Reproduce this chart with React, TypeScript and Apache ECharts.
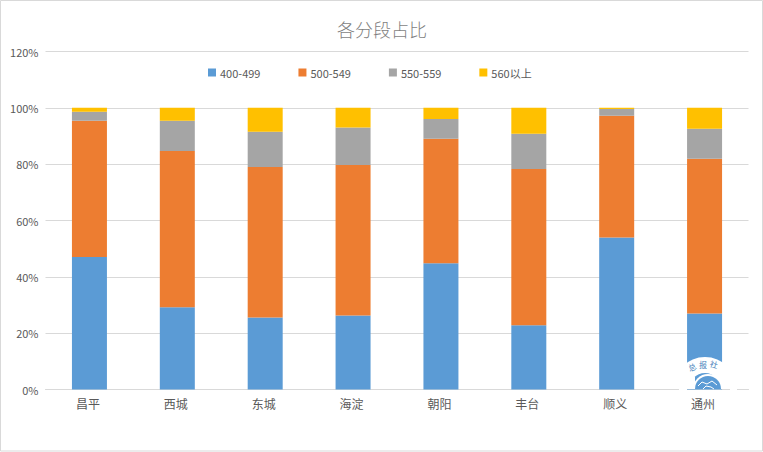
import React, { useEffect, useRef } from "react";
import * as echarts from "echarts";

const categories = ["昌平", "西城", "东城", "海淀", "朝阳", "丰台", "顺义", "通州"];
const band400 = [47, 29.2, 25.6, 26.3, 44.8, 22.8, 54, 27];
const band500 = [48.4, 55.5, 53.4, 53.4, 44.2, 55.5, 43.2, 54.9];
const band550 = [3.2, 10.7, 12.5, 13.3, 7, 12.5, 2.4, 10.7];
const band560 = [1.4, 4.6, 8.5, 7, 4, 9.2, 0.4, 7.4];
const seriesNames = ["400-499", "500-549", "550-559", "560以上"];
const colors = ["#5B9BD5", "#ED7D31", "#A5A5A5", "#FFC000"];
const FONT = '"Noto Sans CJK SC", "Noto Sans", sans-serif';

const stampBlue = "#5B9BD5";
const stampGraphic = [
  { type: "sector", silent: true, z: 50, shape: { cx: 705, cy: 389, r: 32, r0: 16, startAngle: Math.PI, endAngle: 2 * Math.PI }, style: { fill: "#fff" } },
  { type: "rect", silent: true, z: 50, shape: { x: 687, y: 377, width: 8, height: 12 }, style: { fill: "#fff" } },
  { type: "rect", silent: true, z: 50, shape: { x: 679, y: 388, width: 8, height: 3 }, style: { fill: "#fff" } },
  { type: "rect", silent: true, z: 50, shape: { x: 730, y: 388, width: 7, height: 3 }, style: { fill: "#fff" } },
  { type: "sector", silent: true, z: 51, shape: { cx: 708, cy: 389, r: 15, r0: 0, startAngle: Math.PI, endAngle: 2 * Math.PI }, style: { fill: "#fff" } },
  { type: "sector", silent: true, z: 52, shape: { cx: 708, cy: 389, r: 13, r0: 0, startAngle: Math.PI, endAngle: 2 * Math.PI }, style: { fill: stampBlue } },
  { type: "polyline", silent: true, z: 53, shape: { points: [[698, 386], [702, 382], [707, 384], [712, 381], [717, 385]] }, style: { fill: "none", stroke: "#fff", lineWidth: 1 } },
  { type: "polyline", silent: true, z: 53, shape: { points: [[703, 389], [706, 386], [711, 387], [714, 389]] }, style: { fill: "none", stroke: "#fff", lineWidth: 1 } },
  { type: "text", silent: true, z: 54, x: 692, y: 367, rotation: 0.4, style: { text: "总", fontFamily: FONT, fontSize: 8, fill: "#3f7fba", align: "center", verticalAlign: "middle" } },
  { type: "text", silent: true, z: 54, x: 703, y: 364, style: { text: "报", fontFamily: FONT, fontSize: 8, fill: "#3f7fba", align: "center", verticalAlign: "middle" } },
  { type: "text", silent: true, z: 54, x: 714, y: 364, rotation: -0.25, style: { text: "社", fontFamily: FONT, fontSize: 8, fill: "#3f7fba", align: "center", verticalAlign: "middle" } },
];

export default function App() {
  const ref = useRef<HTMLDivElement>(null);
  useEffect(() => {
    document.body.style.margin = "0";
    const chart = echarts.init(ref.current!, null, { renderer: "svg" });
    const values = [band400, band500, band550, band560];
    chart.setOption({
      animation: false,
      backgroundColor: "#fff",
      color: colors,
      title: {
        text: "各分段占比",
        left: 377,
        top: 15,
        textAlign: "center",
        textStyle: { fontFamily: FONT, fontSize: 18, fontWeight: 300, color: "#7f7f7f" },
      },
      legend: {
        left: 203,
        top: 62,
        itemWidth: 8,
        itemHeight: 8,
        itemGap: 38,
        icon: "rect",
        data: seriesNames,
        textStyle: { fontFamily: FONT, fontSize: 11, color: "#595959", padding: [0, 0, 0, -1] },
      },
      grid: { left: 45.5, right: 14.5, top: 51.5, bottom: 62.5 },
      xAxis: {
        type: "category",
        data: categories,
        axisTick: { show: false },
        axisLine: { lineStyle: { color: "#d9d9d9" } },
        axisLabel: { fontFamily: FONT, fontSize: 12, color: "#595959", margin: 8, padding: [0, 3, 0, 0] },
      },
      yAxis: {
        type: "value",
        min: 0,
        max: 120,
        interval: 20,
        axisLine: { show: false },
        axisTick: { show: false },
        axisLabel: { formatter: "{value}%", fontFamily: FONT, fontSize: 11, color: "#595959", margin: 7, padding: [0, 0, 3, 0] },
        splitLine: { lineStyle: { color: "#d9d9d9" } },
      },
      series: seriesNames.map((name, i) => ({
        name,
        type: "bar",
        stack: "total",
        barWidth: 35,
        data: values[i],
        itemStyle: { color: colors[i] },
      })),
      graphic: [
        { type: "rect", silent: true, shape: { x: 0.5, y: 0.5, width: 762, height: 450.5 }, style: { fill: "none", stroke: "#d9d9d9", lineWidth: 1 }, z: 100 },
        ...stampGraphic,
      ],
    });
    return () => chart.dispose();
  }, []);
  return <div ref={ref} style={{ width: 763, height: 452 }} />;
}
